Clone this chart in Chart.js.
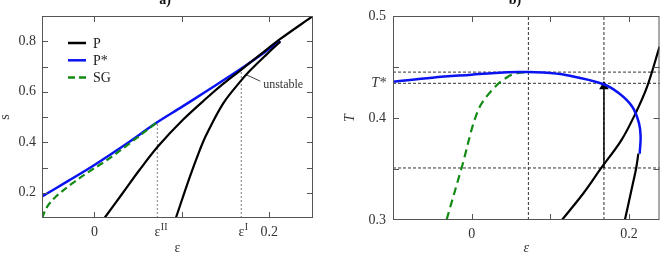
<!DOCTYPE html>
<html>
<head>
<meta charset="utf-8">
<script src="https://cdn.jsdelivr.net/npm/chart.js@4.4.1/dist/chart.umd.min.js"></script>
<style>
body{margin:0;background:#fff;width:665px;height:257px;overflow:hidden;position:relative}
canvas{position:absolute;top:0}
#graficoA{left:0}
#graficoB{left:332px}
</style>
</head>
<body>
<canvas id="graficoA" width="332" height="257"></canvas>
<canvas id="graficoB" width="333" height="257"></canvas>
<script>
// valores
const epsII = 0.072, epsI = 0.168;

// panel a) s vs eps
const aPX  = [0.0115, 0.0326, 0.0517, 0.0728, 0.1015, 0.13, 0.1475, 0.1667, 0.19, 0.213, 0.25];
const aPS  = [0.1, 0.2, 0.291, 0.384, 0.49, 0.58, 0.632, 0.684, 0.748, 0.81, 0.9];
const aPuX = [0.0931, 0.109, 0.1207, 0.128, 0.1475, 0.1667, 0.178, 0.197, 0.2126];
const aPuS = [0.1, 0.262, 0.371, 0.43, 0.555, 0.64, 0.684, 0.748, 0.798];
const aPstarX = [-0.06, -0.03, 0, 0.035, 0.0709, 0.1, 0.128, 0.1667, 0.19, 0.2126];
const aPstarS = [0.185, 0.247, 0.31, 0.39, 0.477, 0.54, 0.602, 0.689, 0.745, 0.801];
const aSgX = [-0.06, -0.054, -0.044, -0.025, -0.006, 0.013, 0.04, 0.0709];
const aSgS = [0.1, 0.145, 0.185, 0.238, 0.284, 0.326, 0.395, 0.477];
const aGuiaX = [epsII, epsI];
const aGuiaTop = [0.477, 0.689];
const aXTicks = [0, 0.2];
const aYTicks = [0.2, 0.4, 0.6, 0.8];
const aEpsLabels = [{value: epsII, sup: 'II'}, {value: epsI, sup: 'I'}];

// panel b) T vs eps
const bPstarX = [-0.1, -0.05, 0, 0.03, 0.06, 0.09, 0.121, 0.1667, 0.1875, 0.204, 0.2125, 0.2146, 0.2134];
const bPstarT = [0.4356, 0.4395, 0.4425, 0.4442, 0.445, 0.4447, 0.442, 0.4333, 0.424, 0.411, 0.395, 0.382, 0.365];
const bSgX = [-0.032, -0.0125, 0.0084, 0.029, 0.045, 0.058, 0.071];
const bSgT = [0.3, 0.352, 0.408, 0.43, 0.44, 0.444, 0.445];
const bP1X = [0.1146, 0.1417, 0.1646, 0.19, 0.2084, 0.223, 0.2387];
const bP1T = [0.3, 0.326, 0.351, 0.378, 0.405, 0.431, 0.47];
const bP2X = [0.1946, 0.204, 0.209, 0.2117];
const bP2T = [0.3, 0.333, 0.351, 0.365];
const tStar = 0.434, tMax = 0.445, tLow = 0.351;
const bHoriz = [tMax, tStar, tLow];
const bVert = [epsII, epsI];
const flechaT = [tLow, 0.431];
const bXTicks = [0, 0.2];
const bYTicks = [0.3, 0.4, tStar, 0.5];

const FUENTE = "'Liberation Serif', 'DejaVu Serif', serif";
Chart.defaults.font.family = FUENTE;
Chart.defaults.font.size = 14;
Chart.defaults.color = '#333';

function puntos(xs, ys){
    return xs.map((v, i) => ({x: v, y: ys[i]}));
}
function serie(label, xs, ys, color, extra){
    return Object.assign({
        label: label,
        data: puntos(xs, ys),
        borderColor: color,
        backgroundColor: color,
        borderWidth: 2.2,
        pointRadius: 0,
        showLine: true,
        fill: false,
        tension: 0.35
    }, extra || {});
}

// marco con ticks hacia dentro, textos extra
const marco = {
    id: 'marco',
    afterDatasetsDraw(chart, args, opts){
        const {ctx, chartArea: ca} = chart;
        const x = chart.scales.x, y = chart.scales.y;
        ctx.save();
        ctx.strokeStyle = '#555';
        ctx.lineWidth = 1;
        ctx.strokeRect(ca.left + 0.5, ca.top + 0.5, ca.width - 1, ca.height - 1);
        const L = 6;
        ctx.beginPath();
        (opts.xTicks || []).forEach(v => {
            const px = Math.round(x.getPixelForValue(v)) + 0.5;
            ctx.moveTo(px, ca.bottom); ctx.lineTo(px, ca.bottom - L);
            ctx.moveTo(px, ca.top); ctx.lineTo(px, ca.top + L);
        });
        (opts.yTicks || []).forEach(v => {
            const py = Math.round(y.getPixelForValue(v)) + 0.5;
            ctx.moveTo(ca.left, py); ctx.lineTo(ca.left + L, py);
            ctx.moveTo(ca.right, py); ctx.lineTo(ca.right - L, py);
        });
        ctx.stroke();

        ctx.fillStyle = '#333';
        (opts.epsLabels || []).forEach(e => {
            const px = x.getPixelForValue(e.value);
            ctx.font = '14px ' + FUENTE;
            ctx.textAlign = 'center';
            ctx.textBaseline = 'middle';
            ctx.fillText('ε', px, ca.bottom + 14);
            const w = ctx.measureText('ε').width;
            ctx.font = '10px ' + FUENTE;
            ctx.textAlign = 'left';
            ctx.fillText(e.sup, px + w / 2 + 0.5, ca.bottom + 9);
        });

        (opts.textos || []).forEach(t => {
            ctx.font = t.font;
            ctx.textAlign = t.align || 'left';
            ctx.textBaseline = 'middle';
            ctx.fillText(t.text, x.getPixelForValue(t.x), y.getPixelForValue(t.y));
        });
        if (opts.lider){
            const l = opts.lider;
            ctx.strokeStyle = '#444';
            ctx.beginPath();
            ctx.moveTo(x.getPixelForValue(l.x[0]), y.getPixelForValue(l.y[0]));
            ctx.lineTo(x.getPixelForValue(l.x[1]), y.getPixelForValue(l.y[1]));
            ctx.stroke();
        }
        if (opts.titulo){
            ctx.font = 'bold 14px ' + FUENTE;
            ctx.textAlign = 'center';
            ctx.textBaseline = 'alphabetic';
            ctx.fillStyle = '#111';
            ctx.fillText(opts.titulo.text, opts.titulo.x, opts.titulo.y);
        }
        ctx.restore();
    }
};

const leyenda = {
    id: 'leyenda',
    afterDatasetsDraw(chart, args, opts){
        if (!opts.labels) return;
        const {ctx} = chart;
        ctx.save();
        opts.labels.forEach((lab, i) => {
            const ds = chart.data.datasets.find(d => d.label === lab);
            const yy = opts.y + i * opts.dy;
            ctx.strokeStyle = ds.borderColor;
            ctx.lineWidth = 2.5;
            ctx.setLineDash(ds.borderDash || []);
            ctx.beginPath();
            ctx.moveTo(opts.x, yy);
            ctx.lineTo(opts.x + 18, yy);
            ctx.stroke();
            ctx.setLineDash([]);
            ctx.fillStyle = '#222';
            ctx.font = '14px ' + FUENTE;
            ctx.textBaseline = 'middle';
            ctx.textAlign = 'left';
            ctx.fillText(lab, opts.x + 25, yy + 1);
        });
        ctx.restore();
    }
};

function rango(a, b, paso){
    const r = [];
    for (let v = a; v <= b + 1e-9; v += paso) r.push(Math.round(v * 1000) / 1000);
    return r;
}

// ---- panel a ----
const datosA = [
    serie('SG', aSgX, aSgS, '#138a13', {borderDash: [7, 4], order: 0}),
    serie('P', aPX, aPS, '#000', {order: 1}),
    serie('P', aPuX, aPuS, '#000', {order: 1}),
    serie('P*', aPstarX, aPstarS, '#0a14f0', {borderWidth: 2.5, order: 2})
];
aGuiaX.forEach((v, i) => {
    datosA.push(serie('guia', [v, v], [0.1, aGuiaTop[i]], '#999', {borderWidth: 1.3, borderDash: [2, 2], tension: 0, order: 10}));
});

new Chart(document.getElementById('graficoA'), {
    type: 'scatter',
    data: {datasets: datosA},
    options: {
        responsive: false,
        animation: false,
        devicePixelRatio: 1,
        layout: {padding: {left: 0, top: 16, right: 19, bottom: 0}},
        scales: {
            x: {
                type: 'linear', min: -0.06, max: 0.25,
                grid: {display: false, drawTicks: false},
                border: {display: false},
                afterBuildTicks: s => { s.ticks = aXTicks.map(v => ({value: v})); },
                afterFit: s => { s.height = 39; },
                ticks: {padding: 6, maxRotation: 0, callback: v => v === 0 ? '0' : v.toFixed(1)},
                title: {display: true, text: 'ε', padding: 0, font: {size: 14}}
            },
            y: {
                type: 'linear', min: 0.1, max: 0.9,
                grid: {display: false, drawTicks: false},
                border: {display: false},
                afterBuildTicks: s => { s.ticks = aYTicks.map(v => ({value: v})); },
                afterFit: s => { s.width = 42; },
                ticks: {padding: 6, callback: v => v.toFixed(1)},
                title: {display: true, text: 's', padding: {top: -3}, font: {size: 14}}
            }
        },
        plugins: {
            legend: {display: false},
            tooltip: {enabled: false},
            marco: {
                xTicks: rango(0, 0.2, 0.1),
                yTicks: rango(0.2, 0.8, 0.1),
                epsLabels: aEpsLabels,
                textos: [{text: 'unstable', x: 0.193, y: 0.629, font: '12px ' + FUENTE}],
                lider: {x: [0.1744, 0.1897], y: [0.666, 0.642]},
                titulo: {text: 'a)', x: 165, y: 4}
            },
            leyenda: {labels: ['P', 'P*', 'SG'], x: 68, y: 43, dy: 17.3}
        }
    },
    plugins: [marco, leyenda]
});

// ---- panel b ----
const datosB = [
    serie('P', bP1X, bP1T, '#000', {order: 1}),
    serie('P', bP2X, bP2T, '#000', {order: 1}),
    serie('P*', bPstarX, bPstarT, '#0a14f0', {borderWidth: 2.5, tension: 0.4, order: 0}),
    serie('SG', bSgX, bSgT, '#138a13', {borderDash: [8, 5], order: 2}),
    serie('flecha', [epsI, epsI], flechaT, '#000', {
        borderWidth: 1.5, tension: 0,
        pointRadius: [0, 4], pointStyle: 'triangle', order: 3
    })
];
bHoriz.forEach(v => {
    datosB.push(serie('guia', [-0.1, 0.24], [v, v], '#333', {borderWidth: 1, borderDash: [3, 2], tension: 0, order: 10}));
});
bVert.forEach(v => {
    datosB.push(serie('guia', [v, v], [0.3, 0.5], '#333', {borderWidth: 1, borderDash: [3, 2], tension: 0, order: 10}));
});

new Chart(document.getElementById('graficoB'), {
    type: 'scatter',
    data: {datasets: datosB},
    options: {
        responsive: false,
        animation: false,
        devicePixelRatio: 1,
        layout: {padding: {left: 0, top: 16, right: 1, bottom: 0}},
        scales: {
            x: {
                type: 'linear', min: -0.1, max: 0.2386,
                grid: {display: false, drawTicks: false},
                border: {display: false},
                afterBuildTicks: s => { s.ticks = bXTicks.map(v => ({value: v})); },
                afterFit: s => { s.height = 37; },
                ticks: {padding: 6, maxRotation: 0, callback: v => v === 0 ? '0' : v.toFixed(1)},
                title: {display: true, text: 'ε', padding: 0, font: {size: 14, style: 'italic'}}
            },
            y: {
                type: 'linear', min: 0.3, max: 0.5,
                grid: {display: false, drawTicks: false},
                border: {display: false},
                afterBuildTicks: s => { s.ticks = bYTicks.map(v => ({value: v})); },
                afterFit: s => { s.width = 61; },
                ticks: {
                    padding: 7,
                    callback: v => v === tStar ? 'T*' : v.toFixed(1),
                    font: c => (c.tick && c.tick.value === tStar) ? {size: 14, style: 'italic'} : {size: 14}
                },
                title: {display: true, text: 'T', padding: {top: 10}, font: {size: 14, style: 'italic'}}
            }
        },
        plugins: {
            legend: {display: false},
            tooltip: {enabled: false},
            marco: {
                xTicks: rango(0, 0.2, 0.1),
                yTicks: rango(0.35, 0.45, 0.05),
                titulo: {text: 'b)', x: 183, y: 4}
            }
        }
    },
    plugins: [marco]
});
</script>
</body>
</html>
